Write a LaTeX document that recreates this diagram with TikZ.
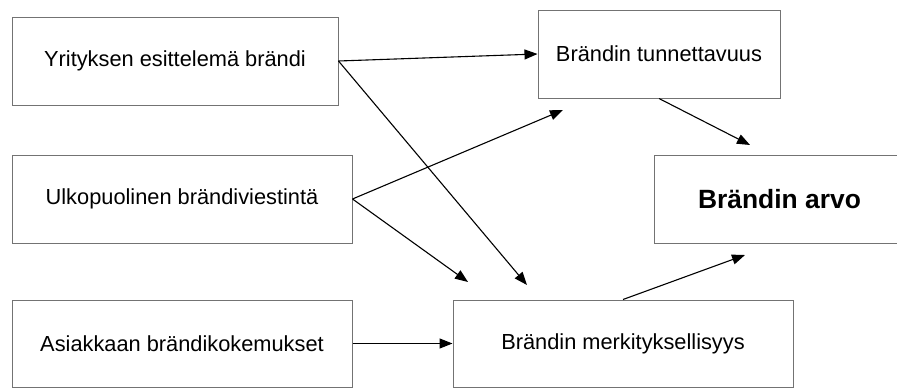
\documentclass[tikz,border=0pt]{standalone}
\usepackage{fontspec}
\setmainfont{Liberation Sans}
\usetikzlibrary{arrows.meta}

\tikzset{
	laatikko/.style={draw=black!55, line width=1pt, rectangle, inner sep=0pt,
		minimum height=88pt, font=\fontsize{21.8}{26}\selectfont, text=black},
	nuoli/.style={line width=1.1pt, -{Triangle[length=13pt, width=10pt]}},
}

\begin{document}
\begin{tikzpicture}[x=1pt, y=-1pt]
			%%%%% ALKU %%%%%
			
			\useasboundingbox[fill=white] (0, 0) rectangle (897, 388);
			
			\node[laatikko, minimum width=326pt] (esittely) at (175, 61) {Yrityksen esittelemä brändi};
			\node[laatikko, minimum width=340pt] (viestinta) at (182, 199) {Ulkopuolinen brändiviestintä};
			\node[laatikko, minimum width=340pt, minimum height=87pt] (kokemus) at (182, 343.5) {Asiakkaan brändikokemukset};
			
			\node[laatikko, minimum width=242pt] (tunnettavuus) at (659, 54) {Brändin tunnettavuus};
			\node[laatikko, minimum width=340pt, minimum height=87pt] (merkitys) at (623, 343.5) {Brändin merkityksellisyys};
			
			\node[laatikko, minimum width=251pt, font=\fontsize{26.4}{30}\selectfont\bfseries] (arvo) at (779.5, 199) {Brändin arvo};
			
			\coordinate (m1) at (527, 285);
			\coordinate (m2) at (468, 282);
			\coordinate (t1) at (563, 110);
			\coordinate (a1) at (750, 145);
			\coordinate (a2) at (745, 255);
			
			\draw[nuoli] (esittely.east) -- (tunnettavuus.west);
			\draw[nuoli] (esittely.east) -- (m1);
			
			\draw[nuoli] (viestinta.east) -- (t1);
			\draw[nuoli] (viestinta.east) -- (m2);
			
			\draw[nuoli] (kokemus.east) -- (merkitys.west);
			
			\draw[nuoli] (tunnettavuus.south) -- (a1);
			\draw[nuoli] (merkitys.north) -- (a2);
			
			%%%%% LOPPU %%%%%
		\end{tikzpicture}
\end{document}
